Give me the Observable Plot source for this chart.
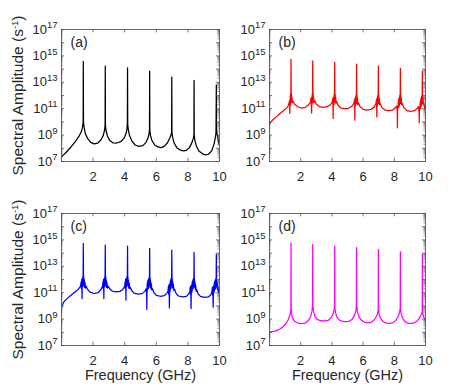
<!DOCTYPE html>
<html><head><meta charset="utf-8">
<script src="https://cdn.jsdelivr.net/npm/d3@7"></script>
<script src="https://cdn.jsdelivr.net/npm/@observablehq/plot@0.6"></script>
<style>
body{margin:0;background:#fff;}
#fig{position:relative;width:471px;height:388px;overflow:hidden;font-family:"Liberation Sans",Arial,sans-serif;}
#fig > div{position:absolute;}
#fig svg{overflow:visible;}
</style></head><body><div id="fig"></div>
<script>
// ---- data (frequency in GHz, log10 of spectral amplitude in s^-1) ----
const xTicks = [2, 4, 6, 8, 10];
const yTickExponents = [7, 9, 11, 13, 15, 17];
const panelLabels = ["(a)", "(b)", "(c)", "(d)"];
const lineColors = ["#000000", "#ff0000", "#0000ff", "#ff00ff"];
const xLabel = "Frequency (GHz)";
const yLabel = "Spectral Amplitude (s^-1)";

const curveA = [[0,7.35],[0.3,7.7],[0.6,8.1],[0.9,8.55],[1.1,8.9],[1.25,9.25],[1.33,9.6],[1.37,10.0],[1.38,14.58],[1.39,10.0],
[1.43,9.6],[1.5,9.15],[1.65,8.75],[1.85,8.45],[2.07,8.34],[2.3,8.4],[2.5,8.65],[2.65,9.0],[2.72,9.35],[2.76,9.75],[2.77,14.22],[2.78,9.75],
[2.82,9.35],[2.9,8.95],[3.05,8.6],[3.25,8.42],[3.5,8.4],[3.75,8.5],[3.95,8.75],[4.08,9.1],[4.14,9.45],[4.17,9.85],[4.18,14.1],[4.19,9.85],
[4.23,9.4],[4.31,8.95],[4.46,8.55],[4.66,8.25],[4.9,8.15],[5.15,8.2],[5.35,8.45],[5.48,8.8],[5.54,9.1],[5.57,9.4],[5.58,13.84],[5.59,9.4],
[5.63,9.0],[5.72,8.6],[5.9,8.25],[6.1,8.1],[6.3,8.05],[6.5,8.15],[6.7,8.4],[6.86,8.8],[6.94,9.05],[6.97,9.25],[6.98,13.39],[6.99,9.25],
[7.03,8.85],[7.13,8.4],[7.3,8.05],[7.5,7.88],[7.7,7.8],[7.9,7.85],[8.1,8.05],[8.26,8.45],[8.34,8.75],[8.38,9.0],[8.39,13.14],[8.4,9.0],
[8.44,8.6],[8.54,8.15],[8.7,7.8],[8.9,7.6],[9.1,7.5],[9.3,7.55],[9.5,7.8],[9.65,8.3],[9.74,8.85],[9.78,9.2],[9.8,12.8],[9.81,9.4],[9.86,9.0],[9.93,8.5],[10,8.2]];

const curveB = [[0,9.85],[0.2,10.15],[0.45,10.4],[0.7,10.65],[0.95,10.9],[1.15,11.1],
[1.24,11.35],[1.28,11.6],[1.29,11.2],[1.3,10.64],[1.31,11.4],[1.33,11.9],[1.34,11.3],[1.35,12.1],[1.36,11.5],[1.37,12.4],[1.38,14.73],[1.39,12.4],[1.4,11.6],[1.41,12.1],[1.42,11.5],[1.44,11.9],[1.46,11.45],[1.5,11.6],
[1.6,11.35],[1.8,11.15],[2.05,11.05],[2.3,11.1],[2.5,11.3],[2.62,11.5],
[2.66,11.8],[2.68,11.3],[2.7,10.68],[2.71,11.5],[2.72,11.9],[2.73,11.35],[2.74,12.1],[2.75,11.5],[2.76,12.4],[2.77,14.62],[2.78,12.4],[2.79,11.6],[2.8,12.1],[2.81,11.5],[2.83,11.9],[2.85,11.45],[2.9,11.6],
[3.0,11.35],[3.2,11.15],[3.45,11.1],[3.7,11.15],[3.9,11.3],[4.02,11.5],
[4.06,11.8],[4.07,11.2],[4.08,10.26],[4.09,11.4],[4.12,11.9],[4.13,11.3],[4.15,12.1],[4.16,11.5],[4.17,12.4],[4.18,14.52],[4.19,12.4],[4.2,11.6],[4.21,12.1],[4.22,11.5],[4.24,11.9],[4.26,11.4],[4.3,11.55],
[4.4,11.25],[4.6,11.05],[4.85,11.0],[5.1,11.05],[5.3,11.2],[5.42,11.45],
[5.45,11.7],[5.46,11.1],[5.47,10.13],[5.48,11.3],[5.51,11.9],[5.52,11.25],[5.54,12.0],[5.56,11.4],[5.57,12.3],[5.58,14.37],[5.59,12.3],[5.6,11.5],[5.61,12.0],[5.62,11.4],[5.64,11.8],[5.66,11.3],[5.7,11.45],
[5.8,11.15],[6.0,10.95],[6.25,10.9],[6.5,10.95],[6.7,11.1],[6.82,11.4],
[6.86,11.7],[6.87,11.1],[6.88,10.39],[6.89,11.3],[6.91,11.85],[6.92,11.2],[6.94,12.0],[6.96,11.4],[6.97,12.3],[6.98,14.22],[6.99,12.3],[7.0,11.5],[7.01,12.0],[7.02,11.4],[7.04,11.8],[7.06,11.3],[7.1,11.4],
[7.2,11.1],[7.4,10.9],[7.65,10.85],[7.9,10.9],[8.05,11.05],
[8.15,11.2],[8.19,10.8],[8.2,9.55],[8.21,10.9],[8.25,11.4],[8.28,11.7],[8.29,11.1],[8.31,11.85],[8.33,11.25],[8.35,12.0],[8.37,11.4],[8.38,12.3],[8.39,14.05],[8.4,12.3],[8.41,11.5],[8.42,12.0],[8.43,11.4],[8.45,11.8],[8.47,11.3],[8.51,11.4],
[8.6,11.1],[8.8,10.85],[9.05,10.8],[9.3,10.85],[9.45,11.0],
[9.55,11.15],[9.59,10.7],[9.6,9.93],[9.61,10.8],[9.65,11.3],[9.68,11.6],[9.69,11.0],[9.71,11.8],[9.73,11.2],[9.75,11.95],[9.77,11.35],[9.79,12.2],[9.8,13.84],[9.81,12.2],[9.82,11.5],[9.84,11.9],[9.86,11.3],[9.9,11.4],[9.95,11.0],[10,10.9]];

const curveC = [[0,9.95],[0.15,10.3],[0.35,10.55],[0.6,10.8],[0.85,11.05],[1.05,11.25],[1.18,11.45],
[1.22,11.6],[1.25,11.85],[1.26,11.3],[1.28,12.0],[1.29,11.4],[1.3,10.56],[1.31,11.6],[1.32,12.1],[1.33,11.45],[1.35,12.2],[1.36,11.6],[1.37,12.5],[1.38,14.73],[1.39,12.5],[1.4,11.7],[1.41,12.2],[1.42,11.5],[1.44,12.0],[1.46,11.4],[1.48,11.8],[1.52,11.35],[1.56,11.5],
[1.65,11.25],[1.8,11.05],[2.05,10.94],[2.3,11.0],[2.48,11.2],[2.58,11.45],
[2.61,11.6],[2.63,11.85],[2.64,11.3],[2.66,12.0],[2.67,11.4],[2.68,10.56],[2.69,11.6],[2.71,12.1],[2.72,11.45],[2.74,12.2],[2.75,11.6],[2.76,12.5],[2.77,14.6],[2.78,12.5],[2.79,11.7],[2.8,12.2],[2.81,11.5],[2.83,12.0],[2.85,11.4],[2.87,11.8],[2.91,11.35],[2.95,11.5],
[3.05,11.3],[3.2,11.12],[3.45,11.06],[3.7,11.1],[3.88,11.25],[3.98,11.45],
[4.01,11.6],[4.03,11.85],[4.04,11.3],[4.06,12.0],[4.07,11.4],[4.08,10.43],[4.09,11.6],[4.11,12.1],[4.12,11.45],[4.14,12.2],[4.16,11.6],[4.17,12.45],[4.18,14.52],[4.19,12.45],[4.2,11.7],[4.21,12.15],[4.22,11.5],[4.24,11.95],[4.26,11.35],[4.28,11.75],[4.32,11.3],[4.36,11.4],
[4.45,11.15],[4.6,10.97],[4.85,10.89],[5.1,10.93],[5.28,11.1],[5.36,11.3],
[5.38,11.1],[5.39,10.6],[5.4,9.73],[5.41,10.9],[5.42,11.5],[5.44,11.8],[5.45,11.2],[5.47,11.95],[5.48,11.3],[5.5,12.0],[5.51,11.35],[5.53,12.1],[5.55,11.5],[5.57,12.4],[5.58,14.35],[5.59,12.4],[5.6,11.6],[5.61,12.1],[5.62,11.4],[5.64,11.9],[5.66,11.3],[5.68,11.7],[5.72,11.2],[5.76,11.3],
[5.85,11.0],[6.0,10.8],[6.25,10.73],[6.5,10.77],[6.66,10.95],
[6.74,11.1],[6.77,11.5],[6.78,10.9],[6.8,11.6],[6.82,10.7],[6.83,9.85],[6.84,10.9],[6.86,11.7],[6.87,11.1],[6.89,11.9],[6.9,11.25],[6.92,12.0],[6.93,11.35],[6.95,12.1],[6.96,11.5],[6.97,12.35],[6.98,14.22],[6.99,12.35],[7.0,11.6],[7.01,12.05],[7.02,11.4],[7.04,11.85],[7.06,11.3],[7.08,11.65],[7.12,11.15],[7.16,11.25],
[7.25,10.95],[7.4,10.75],[7.65,10.68],[7.9,10.72],[8.05,10.9],
[8.12,11.1],[8.15,11.45],[8.16,10.9],[8.18,11.5],[8.19,10.6],[8.2,9.8],[8.21,10.9],[8.24,11.6],[8.25,11.0],[8.27,11.8],[8.28,11.2],[8.3,11.9],[8.31,11.3],[8.33,12.0],[8.34,11.35],[8.36,12.1],[8.37,11.5],[8.38,12.3],[8.39,14.05],[8.4,12.3],[8.41,11.6],[8.42,12.0],[8.43,11.4],[8.45,11.8],[8.47,11.25],[8.49,11.6],[8.53,11.1],[8.57,11.2],
[8.65,10.9],[8.8,10.72],[9.05,10.64],[9.3,10.68],[9.45,10.85],
[9.52,11.05],[9.55,11.4],[9.56,10.8],[9.58,11.45],[9.59,10.6],[9.6,9.9],[9.61,10.9],[9.64,11.55],[9.65,11.0],[9.67,11.75],[9.68,11.15],[9.7,11.85],[9.71,11.25],[9.73,11.95],[9.74,11.3],[9.76,12.05],[9.77,11.45],[9.79,12.25],[9.8,13.9],[9.81,12.25],[9.82,11.55],[9.83,11.95],[9.84,11.35],[9.86,11.75],[9.88,11.2],[9.9,11.5],[9.94,11.05],[10,10.94]];

const curveD = [[0,8.03],[0.3,8.07],[0.6,8.2],[0.85,8.4],[1.05,8.65],[1.2,8.95],[1.3,9.25],[1.35,9.55],[1.37,9.8],[1.38,14.77],[1.39,9.8],
[1.41,9.45],[1.47,9.1],[1.6,8.85],[1.8,8.7],[2.07,8.65],[2.3,8.7],[2.5,8.9],[2.64,9.2],[2.72,9.6],[2.76,10.05],[2.77,14.65],[2.78,10.05],
[2.82,9.6],[2.9,9.25],[3.05,9.0],[3.25,8.88],[3.5,8.86],[3.75,8.9],[3.95,9.1],[4.08,9.4],[4.15,9.75],[4.17,9.9],[4.18,14.55],[4.19,9.9],
[4.23,9.5],[4.32,9.15],[4.48,8.92],[4.7,8.82],[4.9,8.8],[5.1,8.83],[5.3,8.98],[5.45,9.3],[5.54,9.65],[5.57,10.05],[5.58,14.42],[5.59,10.05],
[5.63,9.6],[5.72,9.2],[5.88,8.92],[6.1,8.76],[6.3,8.72],[6.5,8.76],[6.7,8.92],[6.85,9.2],[6.93,9.45],[6.97,9.7],[6.98,14.27],[6.99,9.7],
[7.03,9.35],[7.12,9.05],[7.3,8.8],[7.5,8.7],[7.7,8.67],[7.9,8.72],[8.1,8.9],[8.25,9.2],[8.33,9.5],[8.38,9.8],[8.39,14.1],[8.4,9.8],
[8.44,9.4],[8.53,9.05],[8.7,8.8],[8.9,8.68],[9.1,8.67],[9.3,8.72],[9.5,8.9],[9.65,9.15],[9.74,9.4],[9.79,9.55],[9.8,13.92],[9.81,9.55],[9.86,9.25],[9.93,9.05],[10,8.92]];

const curves = [curveA, curveB, curveC, curveD];

// ---- layout of the four panels ----
const boxes = [
  {left: 0,   top: 0,   width: 235, height: 194, ml: 61, mr: 16, mt: 29, mb: 33, yl: true,  xl: false},
  {left: 235, top: 0,   width: 236, height: 194, ml: 34, mr: 46, mt: 29, mb: 33, yl: false, xl: false},
  {left: 0,   top: 194, width: 235, height: 194, ml: 61, mr: 16, mt: 19, mb: 43, yl: true,  xl: true},
  {left: 235, top: 194, width: 236, height: 194, ml: 34, mr: 46, mt: 19, mb: 43, yl: false, xl: true}
];

const yTicks = yTickExponents.map(e => 10 ** e);
const decades = d3.range(7, 18).map(e => 10 ** e);
const minors = [];
for (let e = 7; e < 17; e++) for (let k = 2; k <= 9; k++) minors.push(k * 10 ** e);
const ink = "#262626";
const frameColor = "#555";

function superscript(svg, supSize, shift) {
  d3.select(svg).selectAll("text").each(function () {
    const t = this.textContent;
    const m = t.match(/^(.*?)\^([-\d]+)(.*)$/);
    if (!m) return;
    const sel = d3.select(this);
    sel.selectAll("*").remove();
    sel.text(null);
    sel.append("tspan").text(m[1]);
    sel.append("tspan").attr("dy", -shift).attr("font-size", supSize).text(m[2]);
    if (m[3]) sel.append("tspan").attr("dy", shift).text(m[3]);
  });
}

const fig = document.getElementById("fig");
boxes.forEach((b, i) => {
  const marks = [
    Plot.line(curves[i], {x: d => d[0], y: d => 10 ** d[1], stroke: lineColors[i], strokeWidth: 1.25, clip: true}),
    Plot.frame({stroke: frameColor, strokeWidth: 0.9}),
    Plot.ruleY(decades, {x1: 0, x2: 0.2, stroke: frameColor, strokeWidth: 0.8}),
    Plot.ruleY(decades, {x1: 9.8, x2: 10, stroke: frameColor, strokeWidth: 0.8}),
    Plot.ruleY(minors, {x1: 0, x2: 0.1, stroke: frameColor, strokeWidth: 0.6}),
    Plot.ruleY(minors, {x1: 9.9, x2: 10, stroke: frameColor, strokeWidth: 0.6}),
    Plot.ruleX(xTicks, {y1: 1e7, y2: 10 ** 7.25, stroke: frameColor, strokeWidth: 0.8}),
    Plot.ruleX(xTicks, {y1: 10 ** 16.75, y2: 1e17, stroke: frameColor, strokeWidth: 0.8}),
    Plot.text([panelLabels[i]], {text: d => d, frameAnchor: "top-left", dx: 9, dy: 13.5, textAnchor: "start", lineAnchor: "middle", fontSize: 14, fill: ink})
  ];
  if (b.yl) marks.push(Plot.text([yLabel], {text: d => d, frameAnchor: "left", rotate: -90, dx: -43, textAnchor: "middle", lineAnchor: "middle", fontSize: 15.5, fill: ink}));
  if (b.xl) marks.push(Plot.text([xLabel], {text: d => d, frameAnchor: "bottom", dy: 30, textAnchor: "middle", lineAnchor: "middle", fontSize: 14.5, fill: ink}));
  const svg = Plot.plot({
    width: b.width, height: b.height,
    marginLeft: b.ml, marginRight: b.mr, marginTop: b.mt, marginBottom: b.mb,
    style: {fontFamily: '"Liberation Sans", Arial, sans-serif', fontSize: "13px", color: ink, background: "transparent", overflow: "visible"},
    x: {domain: [0, 10], ticks: xTicks, tickSize: 0, tickPadding: 10, label: null},
    y: {type: "log", domain: [1e7, 1e17], ticks: yTicks, tickSize: 0, tickPadding: 4, label: null,
        tickFormat: d => "10^" + Math.round(Math.log10(d))},
    marks
  });
  superscript(svg, "9.5px", 5.5);
  const holder = document.createElement("div");
  holder.style.left = b.left + "px";
  holder.style.top = b.top + "px";
  holder.appendChild(svg);
  fig.appendChild(holder);
});
</script>
</body></html>
